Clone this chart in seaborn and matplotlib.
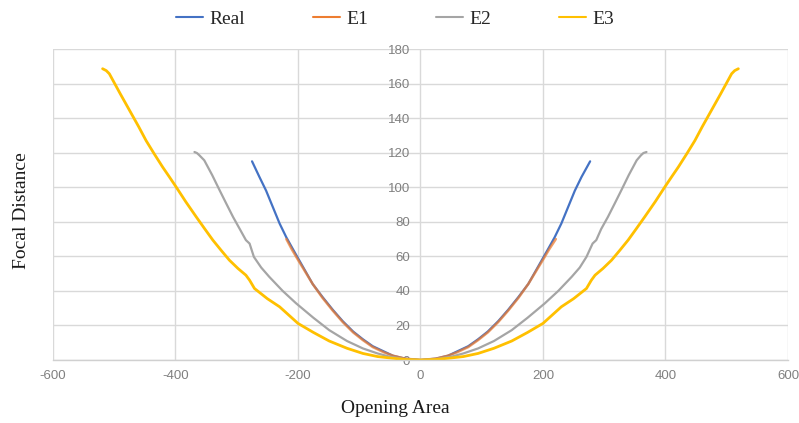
import matplotlib
matplotlib.use("Agg")
import matplotlib.pyplot as plt
from matplotlib.lines import Line2D
import pandas as pd
import seaborn as sns

# Series: opening area (x) vs focal distance (y)
series_names = ["Real", "E1", "E2", "E3"]
series_colors = ["#4472C4", "#ED7D31", "#A5A5A5", "#FFC000"]

real_x = [-275, -263, -252, -241, -230, -219, -208, -192, -176, -160, -143, -127,
          -110, -94, -78, -60, -45, -25, 0,
          25, 45, 60, 78, 94, 110, 127, 143, 160, 176, 192, 208, 219, 230, 241,
          252, 263, 277]
real_y = [115, 106, 98, 88.5, 79, 71, 64, 54, 44, 36.5, 29, 22.5,
          16.5, 12, 8, 5, 2.5, 0.8, 0,
          0.8, 2.5, 5, 8, 12, 16.5, 22.5, 29, 36.5, 44, 54, 64, 71, 79, 88.5,
          98, 106, 115]

e1_x = [-219, -210, -200, -188, -176, -160, -143, -127, -110, -94, -78, -60, -45, -25, 0,
        25, 45, 60, 78, 94, 110, 127, 143, 160, 176, 188, 200, 210, 221]
e1_y = [70, 64, 58, 51, 44, 36, 28.5, 22, 16, 11.5, 7.5, 4.5, 2.5, 0.8, 0,
        0.8, 2.5, 4.5, 7.5, 11.5, 16, 22, 28.5, 36, 44, 51, 58, 64, 70]

e2_x = [-369, -365, -361, -353, -340, -328, -317, -306, -295, -285, -279, -272,
        -260, -247, -225, -203, -175, -149, -120, -94, -70, -51, -25, 0,
        25, 51, 70, 94, 120, 149, 175, 203, 225, 247, 260,
        271, 281, 287, 295, 306, 317, 328, 340, 353, 360, 364, 369]
e2_y = [120.4, 119.8, 118.5, 115.6, 107, 98.3, 90.5, 82.8, 75.8, 69.4, 67.4, 59.7,
        53.5, 48.2, 40, 32.8, 24.5, 17.3, 11, 6.7, 3.8, 2, 0.5, 0,
        0.5, 2, 3.8, 6.7, 11, 17.3, 24.5, 32.8, 40, 48.2, 53.5,
        59.7, 67.4, 69.4, 75.8, 82.8, 90.5, 98.3, 107, 115.6, 118.5, 119.8, 120.4]

e3_x = [-519, -513, -508, -490, -475, -460, -448, -435, -421, -410, -399, -383,
        -366, -352, -339, -325, -312, -298, -285, -279, -271, -250, -230, -215,
        -200, -175, -149, -120, -94, -70, -50, -25, 0,
        25, 50, 70, 94, 120, 149, 175, 200, 215, 230, 250, 271, 279, 285, 298,
        312, 325, 339, 352, 366, 383, 399, 410, 421, 435, 448, 460, 475, 490,
        508, 513, 519]
e3_y = [168.6, 167.5, 165.7, 154, 144.5, 135, 127, 119.5, 111.7, 106, 100.2, 91.5,
        82.8, 75.8, 69.4, 63.3, 57.8, 53, 49.1, 46.2, 41.4, 35.5, 30.8, 26,
        21.2, 16, 11, 6.8, 3.8, 2, 1.2, 0.3, 0,
        0.3, 1.2, 2, 3.8, 6.8, 11, 16, 21.2, 26, 30.8, 35.5, 41.4, 46.2, 49.1, 53,
        57.8, 63.3, 69.4, 75.8, 82.8, 91.5, 100.2, 106, 111.7, 119.5, 127, 135, 144.5, 154,
        165.7, 167.5, 168.6]

x_ticks = [-600, -400, -200, 0, 200, 400, 600]
y_ticks = [0, 20, 40, 60, 80, 100, 120, 140, 160, 180]

sns.set_style("white")
plt.rcParams["font.family"] = ["Liberation Sans", "DejaVu Sans"]
plt.rcParams["axes.unicode_minus"] = False

fig = plt.figure(figsize=(7.99, 4.23), dpi=100)
ax = fig.add_axes([0.0663, 0.1489, 0.9199, 0.7352])

curves = [(real_x, real_y), (e1_x, e1_y), (e2_x, e2_y), (e3_x, e3_y)]
widths = [1.6, 1.8, 1.6, 2.0]
alphas = [1.0, 0.75, 1.0, 1.0]
for name, (xs, ys), color, lw, a in zip(series_names, curves, series_colors, widths, alphas):
    df = pd.DataFrame({"area": xs, "focal": ys})
    sns.lineplot(data=df, x="area", y="focal", sort=False, estimator=None,
                 color=color, linewidth=lw, alpha=a, ax=ax, legend=False)

ax.set_xlim(-600, 600)
ax.set_ylim(0, 180)
ax.set_xticks(x_ticks)
ax.set_yticks(y_ticks)
ax.set_xlabel("")
ax.set_ylabel("")

ax.grid(True, color="#d9d9d9", linewidth=1.0)
ax.set_axisbelow(True)
for side in ["top", "right"]:
    ax.spines[side].set_visible(False)
ax.spines["left"].set_position(("data", 0))
ax.spines["left"].set_visible(False)
ax.spines["bottom"].set_color("#d0d0d0")
ax.spines["bottom"].set_linewidth(1.0)
ax.tick_params(axis="both", length=0, labelsize=9.5, colors="#808080", pad=7.5)

serif = ["Liberation Serif", "DejaVu Serif"]
fig.text(395 / 799, 1 - 408 / 423, "Opening Area", ha="center", va="center",
         family=serif, fontsize=14, color="#1a1a1a")
fig.text(22 / 799, 1 - 211 / 423, "Focal Distance", ha="center", va="center",
         rotation=90, family=serif, fontsize=14, color="#1a1a1a")

handles = [Line2D([0], [0], color=c, linewidth=1.5) for c in series_colors]
fig.legend(handles, series_names, loc="center", bbox_to_anchor=(395 / 799, 1 - 19 / 423),
           ncol=4, frameon=False, prop={"family": serif, "size": 14},
           handlelength=1.4, handletextpad=0.3, columnspacing=3.5)

fig.savefig("out.png", dpi=100)
